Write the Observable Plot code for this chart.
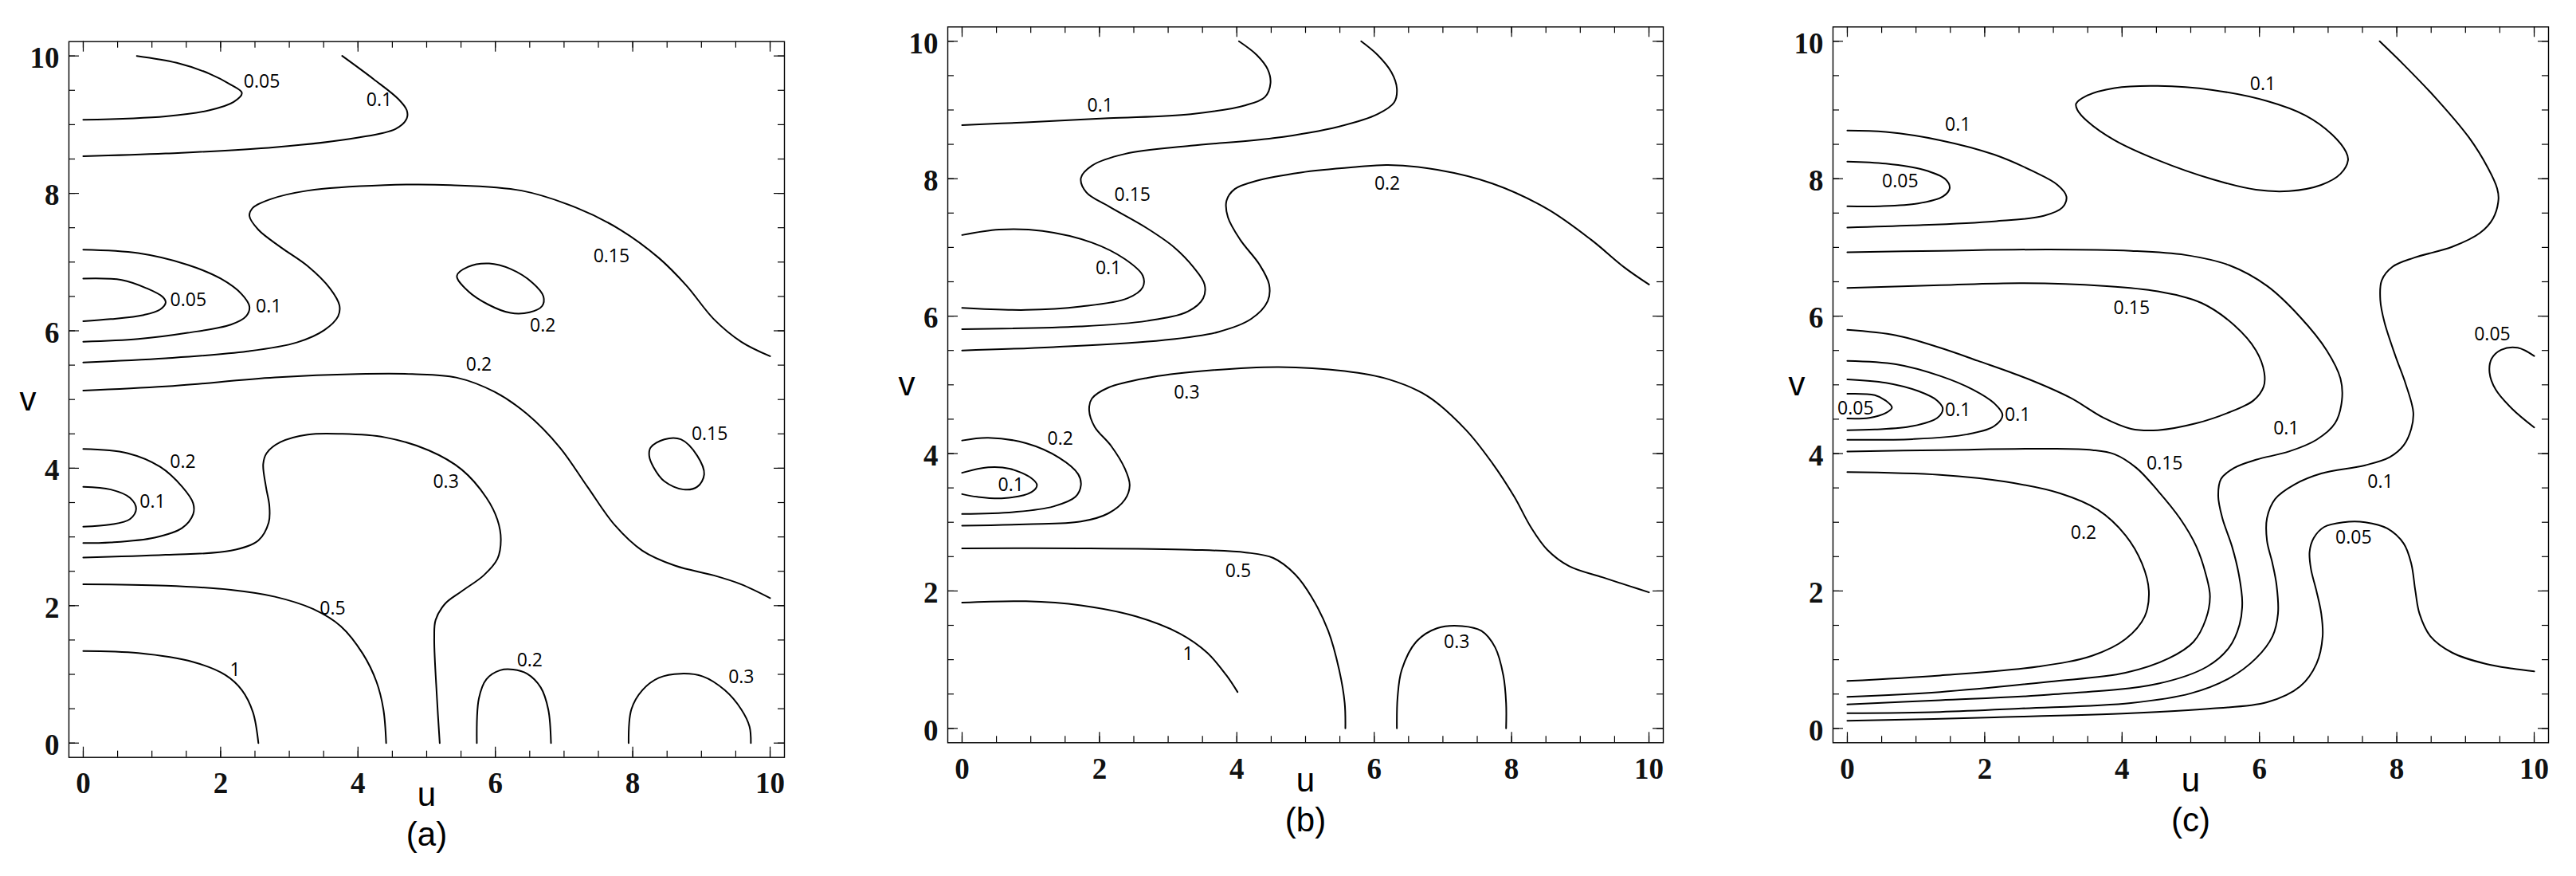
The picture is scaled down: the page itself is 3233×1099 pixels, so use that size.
<!DOCTYPE html>
<html>
<head>
<meta charset="utf-8">
<script src="https://cdn.jsdelivr.net/npm/d3@7"></script>
<script src="https://cdn.jsdelivr.net/npm/@observablehq/plot@0.6"></script>
<style>
  html, body { margin: 0; padding: 0; background: #fff; }
  #wrap { position: relative; width: 3233px; height: 1099px; overflow: hidden; background: #fff; }
  #wrap svg { position: absolute; }
</style>
</head>
<body>
<div id="wrap"></div>
<script>
// ---------- tick labels ----------
const uTicks = [0, 2, 4, 6, 8, 10];
const vTicks = [0, 2, 4, 6, 8, 10];
const minorTicks = [0, 0.5, 1, 1.5, 2, 2.5, 3, 3.5, 4, 4.5, 5, 5.5, 6, 6.5, 7, 7.5, 8, 8.5, 9, 9.5, 10];
const captions = ["(a)", "(b)", "(c)"];

// ---------- panel (a) contour lines [u, v] ----------
const A_005_top = [[0.78,10],[1.36,9.9],[1.84,9.74],[2.15,9.58],[2.31,9.46],[2.19,9.33],[1.84,9.21],[1.2,9.12],[0,9.07]];
const A_01_top = [[3.77,10],[4.23,9.66],[4.59,9.37],[4.71,9.21],[4.71,9.09],[4.55,8.94],[3.99,8.81],[2.79,8.67],[1.2,8.58],[0,8.54]];
const A_015 = [[0,5.54],[1.2,5.6],[2.39,5.7],[3.11,5.83],[3.51,6.01],[3.71,6.21],[3.73,6.37],[3.59,6.62],[3.27,6.94],[2.87,7.22],[2.55,7.47],[2.42,7.67],[2.47,7.79],[2.71,7.91],[3.27,8.04],[4.39,8.12],[5.35,8.12],[6.38,8.04],[7.18,7.79],[7.82,7.47],[8.38,7.06],[8.78,6.66],[9.18,6.17],[9.58,5.84],[10,5.63]];
const A_005_mid = [[0,6.76],[0.56,6.74],[0.92,6.62],[1.16,6.49],[1.2,6.41],[1.12,6.31],[0.88,6.23],[0.4,6.17],[0,6.14]];
const A_01_mid = [[0,7.18],[0.8,7.13],[1.52,6.96],[2.0,6.76],[2.31,6.53],[2.42,6.35],[2.37,6.21],[2.15,6.09],[1.52,5.97],[0.8,5.88],[0,5.84]];
const A_02_mid = [[0,5.13],[1.2,5.19],[2.79,5.32],[3.99,5.37],[4.79,5.37],[5.43,5.32],[5.99,5.11],[6.46,4.79],[6.94,4.3],[7.34,3.73],[7.74,3.17],[8.14,2.8],[8.62,2.58],[9.18,2.44],[9.58,2.31],[10,2.11]];
const A_02_left = [[0,4.28],[0.64,4.22],[1.12,4.02],[1.44,3.73],[1.6,3.49],[1.6,3.33],[1.44,3.13],[1.04,2.99],[0.4,2.92],[0,2.91]];
const A_01_left = [[0,3.73],[0.4,3.69],[0.68,3.57],[0.77,3.41],[0.68,3.26],[0.4,3.18],[0,3.15]];
const A_03 = [[0,2.7],[1.2,2.74],[2.15,2.8],[2.55,2.95],[2.7,3.21],[2.71,3.45],[2.66,3.73],[2.62,4.06],[2.67,4.22],[2.87,4.38],[3.27,4.49],[3.75,4.5],[4.39,4.45],[5.03,4.26],[5.51,3.98],[5.87,3.57],[6.03,3.25],[6.08,2.96],[6.03,2.68],[5.83,2.44],[5.51,2.21],[5.27,2.03],[5.13,1.79],[5.11,1.54],[5.15,0.65],[5.19,0]];
const A_05 = [[0,2.31],[1.2,2.29],[2.15,2.23],[2.79,2.13],[3.35,1.95],[3.75,1.7],[4.07,1.3],[4.27,0.89],[4.37,0.49],[4.41,0]];
const A_1 = [[0,1.34],[0.8,1.31],[1.6,1.18],[2.07,0.99],[2.31,0.77],[2.47,0.45],[2.55,0]];
const A_02_bot = [[5.73,0],[5.76,0.65],[5.87,0.93],[6.07,1.06],[6.26,1.07],[6.46,1.01],[6.66,0.81],[6.77,0.49],[6.81,0]];
const A_03_bot = [[7.94,0],[7.98,0.49],[8.14,0.77],[8.38,0.95],[8.7,1.01],[9.02,0.97],[9.34,0.77],[9.58,0.49],[9.7,0.24],[9.72,0]];
// closed loops
const A_02_loop = [[5.44,6.8],[5.6,6.93],[5.91,6.98],[6.22,6.9],[6.54,6.7],[6.7,6.5],[6.68,6.36],[6.5,6.27],[6.22,6.26],[5.9,6.38],[5.6,6.58]];
const A_015_loop = [[8.26,4.3],[8.46,4.42],[8.7,4.42],[8.94,4.18],[9.04,3.91],[8.94,3.73],[8.74,3.69],[8.46,3.81],[8.3,4.02],[8.24,4.18]];
const A_labels = [[2.6,9.62,"0.05"],[4.31,9.36,"0.1"],[7.69,7.08,"0.15"],[1.53,6.44,"0.05"],[2.7,6.35,"0.1"],[6.69,6.07,"0.2"],[5.76,5.5,"0.2"],[9.12,4.5,"0.15"],[1.45,4.09,"0.2"],[1.01,3.51,"0.1"],[5.28,3.8,"0.3"],[3.63,1.96,"0.5"],[2.21,1.06,"1"],[6.5,1.2,"0.2"],[9.58,0.96,"0.3"]];

// ---------- panel (b) ----------
const B_01_top = [[4.03,10],[4.29,9.8],[4.45,9.59],[4.49,9.39],[4.41,9.19],[4.13,9.07],[3.33,8.94],[2.13,8.88],[0.93,8.82],[0,8.78]];
const B_015 = [[5.81,10],[6.05,9.8],[6.25,9.55],[6.33,9.31],[6.29,9.11],[6.05,8.94],[5.49,8.76],[4.53,8.59],[3.33,8.48],[2.37,8.36],[1.89,8.19],[1.73,8.01],[1.81,7.8],[2.13,7.6],[2.69,7.28],[3.09,7.0],[3.37,6.71],[3.53,6.46],[3.51,6.26],[3.29,6.07],[2.69,5.93],[1.73,5.85],[0,5.81]];
const B_01_mid = [[0,7.18],[0.54,7.26],[1.17,7.24],[1.89,7.07],[2.37,6.83],[2.63,6.59],[2.63,6.42],[2.41,6.26],[1.73,6.14],[0.93,6.09],[0,6.12]];
const B_02 = [[0,5.5],[1.33,5.55],[2.93,5.65],[3.73,5.77],[4.21,5.96],[4.45,6.22],[4.47,6.46],[4.33,6.75],[4.05,7.11],[3.87,7.44],[3.85,7.68],[3.97,7.85],[4.29,7.97],[4.93,8.09],[5.73,8.17],[6.2,8.2],[6.92,8.13],[7.72,7.93],[8.52,7.56],[9.16,7.11],[9.64,6.71],[10,6.46]];
const B_03 = [[0,2.95],[0.93,2.97],[1.73,3.01],[2.13,3.13],[2.37,3.33],[2.44,3.54],[2.37,3.78],[2.17,4.11],[1.93,4.39],[1.85,4.63],[1.89,4.8],[2.13,4.96],[2.69,5.1],[3.49,5.2],[4.61,5.26],[5.57,5.2],[6.21,5.08],[6.77,4.84],[7.33,4.35],[7.72,3.86],[8.04,3.37],[8.28,2.93],[8.52,2.6],[8.84,2.36],[9.32,2.2],[9.72,2.07],[10,1.98]];
const B_02_left = [[0,4.19],[0.38,4.23],[0.93,4.15],[1.41,3.94],[1.69,3.7],[1.73,3.54],[1.65,3.37],[1.33,3.23],[0.77,3.15],[0,3.12]];
const B_01_left = [[0,3.72],[0.38,3.8],[0.69,3.78],[1.01,3.64],[1.09,3.54],[1.01,3.44],[0.61,3.35],[0.22,3.37],[0,3.41]];
const B_05 = [[0,2.62],[1.73,2.62],[3.33,2.6],[4.13,2.56],[4.53,2.48],[4.85,2.24],[5.09,1.91],[5.33,1.42],[5.49,0.85],[5.57,0.37],[5.58,0]];
const B_1 = [[0,1.83],[0.93,1.85],[1.73,1.79],[2.53,1.63],[3.17,1.38],[3.57,1.1],[3.85,0.77],[4.01,0.53]];
const B_03_bot = [[6.33,0],[6.34,0.45],[6.4,0.85],[6.61,1.26],[6.92,1.46],[7.28,1.49],[7.56,1.42],[7.76,1.18],[7.88,0.77],[7.92,0.37],[7.92,0]];
const B_labels = [[2.01,9.06,"0.1"],[2.48,7.76,"0.15"],[2.13,6.7,"0.1"],[6.19,7.93,"0.2"],[3.27,4.89,"0.3"],[1.43,4.21,"0.2"],[0.71,3.54,"0.1"],[4.02,2.29,"0.5"],[3.29,1.08,"1"],[7.2,1.26,"0.3"]];

// ---------- panel (c) ----------
const C_01_top = [[0,8.7],[0.56,8.68],[1.35,8.56],[2.14,8.35],[2.7,8.11],[3.06,7.91],[3.19,7.74],[3.13,7.58],[2.86,7.46],[2.14,7.38],[0.95,7.32],[0,7.29]];
const C_005_top = [[0,8.25],[0.56,8.22],[1.11,8.13],[1.43,7.99],[1.49,7.86],[1.39,7.74],[1.03,7.64],[0.48,7.6],[0,7.6]];
const C_01_right = [[7.75,10],[8.1,9.66],[8.57,9.17],[9.05,8.6],[9.33,8.15],[9.46,7.86],[9.48,7.7],[9.4,7.42],[9.21,7.21],[8.81,7.01],[8.25,6.85],[7.94,6.72],[7.78,6.52],[7.76,6.23],[7.82,5.91],[7.98,5.42],[8.13,5.01],[8.24,4.6],[8.21,4.36],[8.1,4.12],[7.9,3.95],[7.54,3.83],[6.9,3.71],[6.51,3.55],[6.23,3.34],[6.11,3.06],[6.11,2.73],[6.19,2.4],[6.25,2.08],[6.27,1.67],[6.19,1.34],[5.95,1.02],[5.56,0.73],[5.0,0.51],[4.13,0.37],[2.54,0.29],[1.35,0.24],[0,0.22]];
const C_005_right = [[10,5.42],[9.76,5.54],[9.52,5.51],[9.38,5.38],[9.35,5.18],[9.44,4.93],[9.68,4.65],[10,4.38]];
const C_01_mid = [[0,6.93],[1.35,6.95],[2.94,6.97],[4.13,6.95],[4.92,6.89],[5.56,6.74],[6.11,6.44],[6.59,5.99],[6.98,5.5],[7.18,5.09],[7.2,4.77],[7.1,4.44],[6.83,4.2],[6.43,4.03],[5.95,3.91],[5.63,3.79],[5.44,3.63],[5.4,3.38],[5.46,3.06],[5.6,2.65],[5.7,2.24],[5.75,1.83],[5.71,1.51],[5.56,1.18],[5.24,0.9],[4.52,0.65],[2.94,0.49],[1.35,0.41],[0,0.35]];
const C_015_up = [[0,6.41],[1.35,6.45],[2.54,6.48],[3.73,6.44],[4.52,6.36],[5.16,6.19],[5.63,5.87],[5.95,5.5],[6.07,5.18],[6.06,4.97],[5.91,4.77],[5.56,4.6],[5.08,4.44],[4.52,4.34],[4.13,4.36],[3.73,4.52],[3.25,4.81],[2.62,5.09],[1.9,5.35],[1.35,5.54],[0.71,5.72],[0,5.8]];
const C_01_outer = [[0,5.35],[0.71,5.3],[1.35,5.13],[1.83,4.93],[2.14,4.73],[2.26,4.56],[2.14,4.4],[1.75,4.28],[0.95,4.21],[0,4.2]];
const C_01_inner = [[0,5.08],[0.56,5.03],[1.03,4.91],[1.31,4.77],[1.39,4.65],[1.31,4.52],[0.95,4.4],[0.4,4.35],[0,4.34]];
const C_005_left = [[0,4.87],[0.4,4.85],[0.56,4.77],[0.65,4.67],[0.56,4.59],[0.32,4.52],[0,4.51]];
const C_015_low = [[0,4.03],[1.35,4.05],[2.94,4.07],[3.57,4.05],[3.89,3.99],[4.21,3.79],[4.52,3.46],[4.84,3.06],[5.08,2.65],[5.22,2.24],[5.28,1.92],[5.22,1.59],[5.04,1.26],[4.68,1.02],[4.05,0.81],[2.94,0.68],[1.35,0.53],[0,0.46]];
const C_02 = [[0,3.73],[1.35,3.69],[2.3,3.59],[3.1,3.42],[3.65,3.18],[4.05,2.81],[4.29,2.4],[4.39,2.0],[4.33,1.63],[4.05,1.3],[3.57,1.06],[2.78,0.9],[1.35,0.77],[0,0.69]];
const C_005_bot = [[0,0.11],[2.14,0.16],[4.13,0.22],[5.32,0.29],[6.11,0.38],[6.59,0.61],[6.83,0.94],[6.92,1.34],[6.9,1.67],[6.83,2.0],[6.75,2.32],[6.73,2.57],[6.79,2.77],[6.94,2.93],[7.22,3.0],[7.54,3.0],[7.86,2.91],[8.1,2.69],[8.21,2.4],[8.27,2.0],[8.33,1.67],[8.49,1.34],[8.81,1.1],[9.29,0.94],[9.68,0.87],[10,0.83]];
const C_01_loop = [[3.33,9.09],[3.49,9.21],[3.89,9.32],[4.52,9.35],[5.32,9.29],[6.11,9.13],[6.67,8.92],[7.06,8.64],[7.26,8.39],[7.29,8.27],[7.18,8.07],[6.9,7.91],[6.43,7.82],[5.95,7.84],[5.32,7.99],[4.52,8.27],[3.89,8.56],[3.49,8.84],[3.35,9.0]];
const C_labels = [[6.05,9.37,"0.1"],[1.61,8.78,"0.1"],[0.77,7.96,"0.05"],[7.76,3.59,"0.1"],[9.39,5.73,"0.05"],[6.39,4.36,"0.1"],[4.14,6.11,"0.15"],[2.48,4.56,"0.1"],[1.61,4.63,"0.1"],[0.12,4.65,"0.05"],[4.62,3.85,"0.15"],[3.44,2.85,"0.2"],[7.37,2.77,"0.05"]];

// ---------- build ----------
const panels = [
  {caption: captions[0], frameLeft: 86.3, frameTop: 51.7, vdx: -62,
   lines: [A_005_top, A_01_top, A_015, A_005_mid, A_01_mid, A_02_mid, A_02_left, A_01_left, A_03, A_05, A_1, A_02_bot, A_03_bot],
   loops: [A_02_loop, A_015_loop], labels: A_labels},
  {caption: captions[1], frameLeft: 1188.7, frameTop: 33.3, vdx: -62,
   lines: [B_01_top, B_015, B_01_mid, B_02, B_03, B_02_left, B_01_left, B_05, B_1, B_03_bot],
   loops: [], labels: B_labels},
  {caption: captions[2], frameLeft: 2299.7, frameTop: 33.3, vdx: -56,
   lines: [C_01_top, C_005_top, C_01_right, C_005_right, C_01_mid, C_015_up, C_01_outer, C_01_inner, C_005_left, C_015_low, C_02, C_005_bot],
   loops: [C_01_loop], labels: C_labels}
];

const FRAME = 898, ML = 86, MR = 20;
const pad = 0.2085;
const SERIF = "Liberation Serif";
const SANS = "Open Sans";
const LABEL = "Liberation Sans";
const flat = (arr) => arr.flatMap((pts, i) => pts.map(([u, v]) => ({id: i, u, v})));
const wrap = document.getElementById("wrap");

for (const p of panels) {
  const mt = p.frameTop, mb = 1099 - p.frameTop - FRAME;
  const svg = Plot.plot({
    width: ML + FRAME + MR,
    height: 1099,
    marginLeft: ML, marginRight: MR, marginTop: mt, marginBottom: mb,
    x: {domain: [-pad, 10 + pad], axis: null},
    y: {domain: [-pad, 10 + pad], axis: null},
    style: {color: "black", background: "white", overflow: "visible"},
    marks: [
      // inward ticks (minor, then major) on all four sides
      Plot.ruleX(minorTicks, {x: d => d, insetTop: FRAME - 8, strokeWidth: 1.2}),
      Plot.ruleX(minorTicks, {x: d => d, insetBottom: FRAME - 8, strokeWidth: 1.2}),
      Plot.ruleY(minorTicks, {y: d => d, insetRight: FRAME - 8, strokeWidth: 1.2}),
      Plot.ruleY(minorTicks, {y: d => d, insetLeft: FRAME - 8, strokeWidth: 1.2}),
      Plot.ruleX(uTicks, {x: d => d, insetTop: FRAME - 13, strokeWidth: 1.2}),
      Plot.ruleX(uTicks, {x: d => d, insetBottom: FRAME - 13, strokeWidth: 1.2}),
      Plot.ruleY(vTicks, {y: d => d, insetRight: FRAME - 13, strokeWidth: 1.2}),
      Plot.ruleY(vTicks, {y: d => d, insetLeft: FRAME - 13, strokeWidth: 1.2}),
      Plot.frame({stroke: "black", strokeWidth: 1.4}),
      // tick labels (serif)
      Plot.text(uTicks, {x: d => d, frameAnchor: "bottom", lineAnchor: "top", dy: 19, text: d => String(d), fontFamily: SERIF, fontWeight: "bold", fontSize: 37, fill: "#111"}),
      Plot.text(vTicks, {y: d => d, frameAnchor: "left", textAnchor: "end", dx: -12, dy: 3, text: d => String(d), fontFamily: SERIF, fontWeight: "bold", fontSize: 37, fill: "#111"}),
      // contour lines
      Plot.line(flat(p.lines), {x: "u", y: "v", z: "id", curve: "catmull-rom", stroke: "black", strokeWidth: 2}),
      Plot.line(flat(p.loops), {x: "u", y: "v", z: "id", curve: "catmull-rom-closed", stroke: "black", strokeWidth: 2}),
      // contour labels
      Plot.text(p.labels, {x: d => d[0], y: d => d[1], text: d => d[2], fontFamily: SANS, fontSize: 23, fill: "black"}),
      // axis names and caption
      Plot.text(["u"], {frameAnchor: "bottom", dy: 61, text: d => d, fontFamily: LABEL, fontSize: 42}),
      Plot.text([p.caption], {frameAnchor: "bottom", dy: 111, text: d => d, fontFamily: LABEL, fontSize: 42}),
      Plot.text(["v"], {frameAnchor: "left", dx: p.vdx, text: d => d, fontFamily: LABEL, fontSize: 42})
    ]
  });
  svg.style.left = (p.frameLeft - ML) + "px";
  svg.style.top = "0px";
  wrap.appendChild(svg);
}
</script>
</body>
</html>
